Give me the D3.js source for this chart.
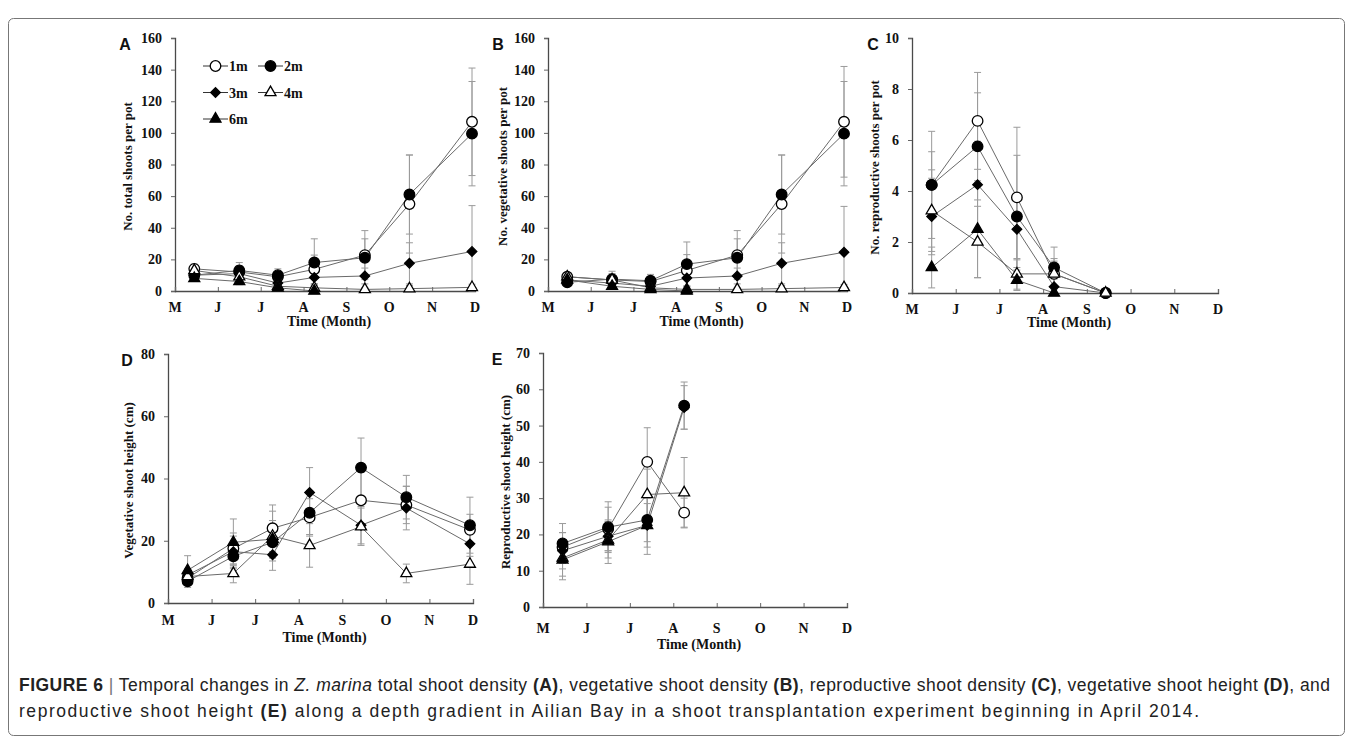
<!DOCTYPE html>
<html>
<head>
<meta charset="utf-8">
<script src="https://cdn.jsdelivr.net/npm/d3@7"></script>
<style>
  body { margin: 0; background: #fff; }
  svg { display: block; }
  .tick-lab { font-family: "Liberation Serif", serif; font-weight: bold; font-size: 14px; fill: #111; }
  .ytitle { font-family: "Liberation Serif", serif; font-weight: bold; font-size: 13px; fill: #111; }
  .letter { font-family: "Liberation Sans", Arial, sans-serif; font-weight: bold; font-size: 16px; fill: #111; }
  .caption { font-family: "Liberation Sans", Arial, sans-serif; font-size: 17.5px; fill: #222; }
</style>
</head>
<body>
<svg id="fig" width="1353" height="745"></svg>
<script>
// month labels on the x axis (May .. Dec)
const monthLabels = ["M", "J", "J", "A", "S", "O", "N", "D"];
// sampling dates, in months after the start of May
const sampleDates = [0.45, 1.5, 2.4, 3.25, 4.43, 5.47, 6.93];
const depths = ["1m", "2m", "3m", "4m", "6m"];

// A: total shoots per pot  (rows = depths)
const totalMean = [
  [14, 12, 9, 13.7, 22.7, 55, 107],
  [10, 13, 10, 18, 21, 61, 99.5],
  [10, 11, 5, 8.6, 9.5, 17.5, 25],
  [13, 9, 3, 2, 1, 1.5, 2.3],
  [8, 6, 2, 0, null, null, null]
];
const totalSD = [
  [3, 4, 3, 9, 15.5, 31, 34],
  [3, 5, 4, 15, 12, 25, 33],
  [2, 3, 2, 5, 5, 13, 29],
  [3, 3, 2, 2, 1, 2, 2],
  [2, 2, 1, 0.5, null, null, null]
];

// B: vegetative shoots per pot
const vegMean = [
  [9, 7, 6, 13, 22.7, 55, 107],
  [5.5, 7.5, 6.5, 17, 21, 61, 99.5],
  [7, 5, 3, 8.2, 9.5, 17.5, 24.5],
  [9, 7, 2, 1, 1, 1.5, 2.2],
  [7, 3, 1, 0, null, null, null]
];
const vegSD = [
  [2, 4, 3, 10, 15.5, 31, 35],
  [2, 5, 4, 14, 12, 25, 33],
  [2, 3, 2, 5, 5, 13, 29],
  [2, 3, 1, 1, 1, 2, 2],
  [2, 2, 1, 0.5, null, null, null]
];

// C: reproductive shoots per pot
const repMean = [
  [4.24, 6.75, 3.75, 0.75, 0, null, null],
  [4.24, 5.75, 3.0, 1.0, 0, null, null],
  [3.0, 4.25, 2.5, 0.25, 0, null, null],
  [3.23, 2.0, 0.75, 0.75, 0, null, null],
  [1.0, 2.5, 0.5, 0, null, null, null]
];
const repSD = [
  [1.3, 1.9, 2.75, 0.5, 0, null, null],
  [2.1, 2.1, 2.4, 0.8, 0, null, null],
  [1.5, 1.7, 1.2, 0.3, 0, null, null],
  [1.6, 1.4, 0.6, 0.6, 0, null, null],
  [0.8, 1.9, 0.4, 0, null, null, null]
];

// D: vegetative shoot height (cm)
const vegHeight = [
  [8, 17.5, 24, 27.5, 33, 31.5, 23.5],
  [7, 15, 19.5, 29, 43.5, 34, 25],
  [9, 16.5, 15.5, 35.5, 25, 30.5, 19],
  [8.5, 9.5, 21.5, 18.5, 24.5, 9.5, 12.5],
  [10.5, 19.5, 20.5, null, null, null, null]
];
const vegHeightSD = [
  [2, 5, 7.5, 6, 9, 6, 5],
  [2, 4, 5, 7, 9.5, 7, 9],
  [2, 5, 5, 8, 6, 7, 4],
  [2, 3, 8, 7, 6, 3, 6.5],
  [4.7, 7.5, 6, null, null, null, null]
];

// E: reproductive shoot height (cm)
const repHeight = [
  [16.5, 21.5, 40, 26, null, null, null],
  [17.5, 22, 24, 55.5, null, null, null],
  [15.5, 19.5, 22.5, 55, null, null, null],
  [13.5, 18.5, 31, 31.5, null, null, null],
  [13, 18, 22.5, null, null, null, null]
];
const repHeightSD = [
  [4, 6, 9.4, 4, null, null, null],
  [5.5, 7, 6, 6.5, null, null, null],
  [5, 4, 6, 6, null, null, null],
  [5, 5, 7, 9.7, null, null, null],
  [5.5, 6, 8, null, null, null, null]
];

const yTicksA = [0, 20, 40, 60, 80, 100, 120, 140, 160];
const yTicksC = [0, 2, 4, 6, 8, 10];
const yTicksD = [0, 20, 40, 60, 80];
const yTicksE = [0, 10, 20, 30, 40, 50, 60, 70];

const svg = d3.select("#fig");

// frame round the figure
svg.append("rect")
  .attr("x", 8.5).attr("y", 18.5)
  .attr("width", 1336).attr("height", 717)
  .attr("rx", 5)
  .attr("fill", "none").attr("stroke", "#777").attr("stroke-width", 1);

const panels = [
  {letter: "A", lx: 125, x0: 175, x1: 475, y0: 291, y1: 38, ymax: 160, ticks: yTicksA,
   title: "No. total shoots per pot", tx: 127, mean: totalMean, sd: totalSD, legend: true,
   monthY: 312, timeY: 326},
  {letter: "B", lx: 498, x0: 548, x1: 847, y0: 291, y1: 38, ymax: 160, ticks: yTicksA,
   title: "No. vegetative shoots per pot", tx: 502, mean: vegMean, sd: vegSD,
   monthY: 312, timeY: 326},
  {letter: "C", lx: 873, x0: 912, x1: 1218, y0: 293, y1: 38, ymax: 10, ticks: yTicksC,
   title: "No. reproductive shoots per pot", tx: 874, mean: repMean, sd: repSD,
   monthY: 314, timeY: 327},
  {letter: "D", lx: 127, x0: 168, x1: 473, y0: 603, y1: 354, ymax: 80, ticks: yTicksD,
   title: "Vegetative shoot height (cm)", tx: 128, mean: vegHeight, sd: vegHeightSD,
   monthY: 625, timeY: 642},
  {letter: "E", lx: 497, x0: 543, x1: 847, y0: 607, y1: 353, ymax: 70, ticks: yTicksE,
   title: "Reproductive shoot height (cm)", tx: 505, mean: repHeight, sd: repHeightSD,
   monthY: 633, timeY: 649}
];

// one marker style per depth
const markers = [
  {type: d3.symbolCircle, size: 88, fill: "#fff", rot: 0},
  {type: d3.symbolCircle, size: 88, fill: "#000", rot: 0},
  {type: d3.symbolSquare, size: 46, fill: "#000", rot: 45},
  {type: d3.symbolTriangle, size: 52, fill: "#fff", rot: 0},
  {type: d3.symbolTriangle, size: 52, fill: "#000", rot: 0}
];

function drawMarker(g, i, x, y) {
  const m = markers[i];
  g.append("path")
    .attr("d", d3.symbol().type(m.type).size(m.size)())
    .attr("transform", `translate(${x},${y}) rotate(${m.rot})`)
    .attr("fill", m.fill)
    .attr("stroke", "#000")
    .attr("stroke-width", 1.3);
}

panels.forEach(p => {
  const g = svg.append("g");
  const x = d3.scaleLinear().domain([0, 7]).range([p.x0, p.x1]);
  const y = d3.scaleLinear().domain([0, p.ymax]).range([p.y0, p.y1]);

  // panel letter
  g.append("text").attr("class", "letter")
    .attr("x", p.lx).attr("y", p.y1 + 12).attr("text-anchor", "middle")
    .text(p.letter);

  // y axis
  const yAxis = d3.axisLeft(y).tickValues(p.ticks).tickSize(4).tickPadding(9);
  const ya = g.append("g").attr("transform", `translate(${p.x0},0)`).call(yAxis);
  // x axis, ticks pointing in
  const xAxis = d3.axisBottom(x).tickValues(d3.range(8)).tickSize(-4)
    .tickFormat(() => "");
  const xa = g.append("g").attr("transform", `translate(0,${p.y0})`).call(xAxis);
  [ya, xa].forEach(a => {
    a.select(".domain").attr("stroke", "#4a4a4a").attr("stroke-width", 1.3);
    a.selectAll(".tick line").attr("stroke", "#666");
  });
  ya.selectAll(".tick text").attr("class", "tick-lab").attr("font-family", null).attr("font-size", null);

  // month labels
  g.selectAll(".mon").data(monthLabels).enter().append("text")
    .attr("class", "tick-lab")
    .attr("x", (d, i) => x(i)).attr("y", p.monthY)
    .attr("text-anchor", "middle").text(d => d);
  g.append("text").attr("class", "tick-lab")
    .attr("x", (p.x0 + p.x1) / 2 + 4).attr("y", p.timeY)
    .attr("text-anchor", "middle").text("Time (Month)");

  // y title
  g.append("text").attr("class", "ytitle")
    .attr("transform", `translate(${p.tx},${(p.y0 + p.y1) / 2 + 2}) rotate(-90)`)
    .attr("text-anchor", "middle").attr("dy", "0.35em")
    .text(p.title);

  const line = d3.line()
    .defined(d => d.v != null)
    .x(d => x(d.t)).y(d => y(d.v));

  const series = p.mean.map((row, si) => row.map((v, j) => ({t: sampleDates[j], v: v, sd: p.sd[si][j]})));

  // error bars
  series.forEach(s => {
    s.filter(d => d.v != null && d.sd > 0).forEach(d => {
      const lo = y(Math.max(0, d.v - d.sd)), hi = y(d.v + d.sd), cx = x(d.t);
      g.append("line").attr("x1", cx).attr("x2", cx).attr("y1", lo).attr("y2", hi)
        .attr("stroke", "#9a9a9a").attr("stroke-width", 1);
      [lo, hi].forEach(yy => g.append("line")
        .attr("x1", cx - 3.5).attr("x2", cx + 3.5).attr("y1", yy).attr("y2", yy)
        .attr("stroke", "#9a9a9a").attr("stroke-width", 1));
    });
  });

  // connecting lines
  series.forEach(s => {
    g.append("path").attr("d", line(s))
      .attr("fill", "none").attr("stroke", "#6a6a6a").attr("stroke-width", 1);
  });

  // markers
  series.forEach((s, si) => {
    s.filter(d => d.v != null).forEach(d => drawMarker(g, si, x(d.t), y(d.v)));
  });

  // legend (panel A only)
  if (p.legend) {
    const rows = [[0, 1], [2, 3], [4]];
    rows.forEach((r, ri) => {
      r.forEach((si, ci) => {
        const lx = 203 + ci * 55, ly = 66 + ri * 26.5;
        g.append("line").attr("x1", lx).attr("x2", lx + 25).attr("y1", ly).attr("y2", ly)
          .attr("stroke", "#333").attr("stroke-width", 1);
        drawMarker(g, si, lx + 12.5, ly);
        g.append("text").attr("class", "tick-lab")
          .attr("x", lx + 26).attr("y", ly + 5).text(depths[si]);
      });
    });
  }
});

// caption
const cap1 = [
  ["FIGURE 6", "bold"], [" | ", "normal"], ["Temporal changes in ", "normal"], ["Z. marina", "italic"],
  [" total shoot density ", "normal"], ["(A)", "bold"], [", vegetative shoot density ", "normal"],
  ["(B)", "bold"], [", reproductive shoot density ", "normal"], ["(C)", "bold"],
  [", vegetative shoot height ", "normal"], ["(D)", "bold"], [", and", "normal"]
];
const cap2 = [
  ["reproductive shoot height ", "normal"], ["(E)", "bold"],
  [" along a depth gradient in Ailian Bay in a shoot transplantation experiment beginning in April 2014.", "normal"]
];
[[cap1, 691, 1311], [cap2, 717, 1180]].forEach(([parts, yy, len]) => {
  const t = svg.append("text").attr("class", "caption").attr("x", 19).attr("y", yy)
    .attr("xml:space", "preserve")
    .attr("textLength", len).attr("lengthAdjust", "spacing");
  parts.forEach(([txt, st]) => {
    t.append("tspan")
      .attr("font-weight", st === "bold" ? "bold" : null)
      .attr("font-style", st === "italic" ? "italic" : null)
      .attr("fill", txt === " | " ? "#777" : null)
      .text(txt);
  });
});
</script>
</body>
</html>
